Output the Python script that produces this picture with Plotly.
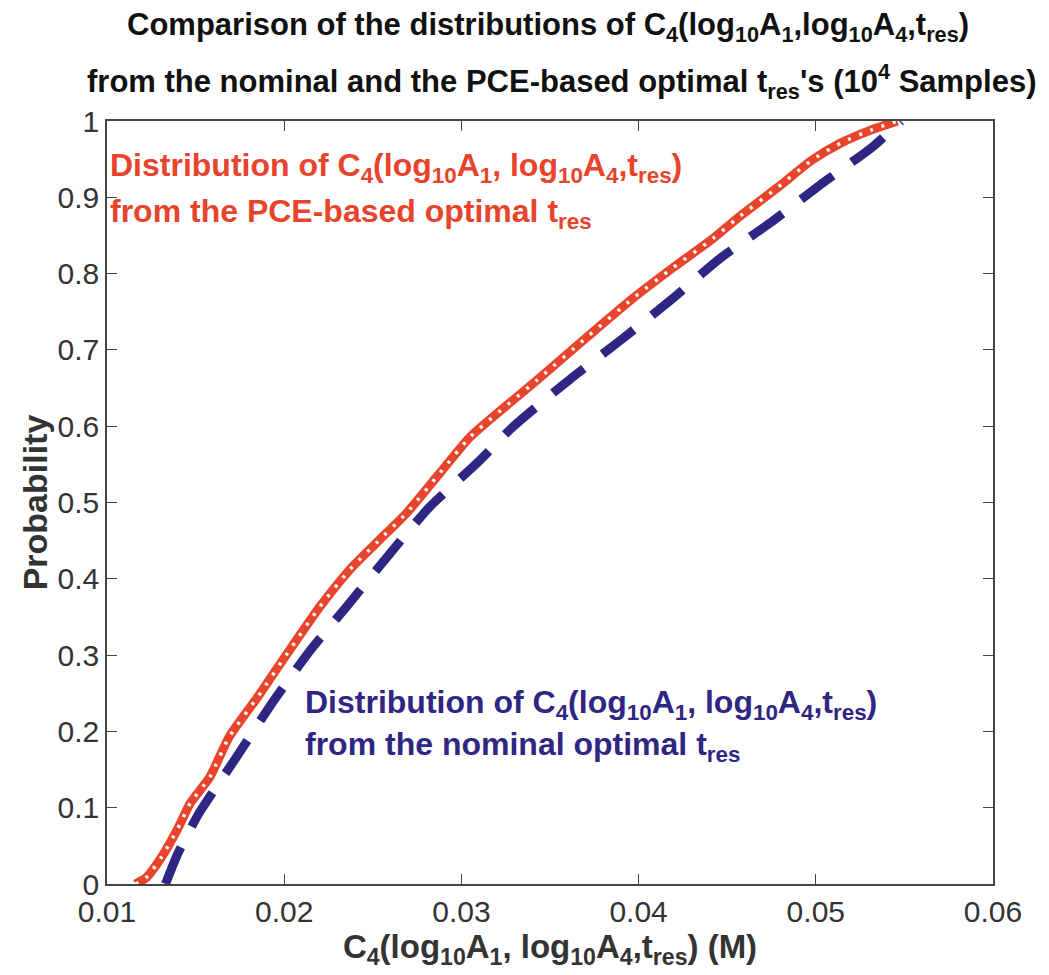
import plotly.graph_objects as go

pce_x = [0.0116, 0.0122, 0.0131, 0.0140, 0.0147, 0.0158, 0.0169, 0.0185, 0.0202, 0.0220,
         0.0237, 0.0252, 0.0269, 0.0288, 0.0305, 0.0343, 0.0371, 0.0397, 0.0419, 0.0442,
         0.0456, 0.0478, 0.0498, 0.0514, 0.0531, 0.0546]
pce_y = [0.0, 0.008, 0.036, 0.073, 0.106, 0.14, 0.193, 0.245, 0.303, 0.363,
         0.412, 0.447, 0.486, 0.539, 0.586, 0.661, 0.717, 0.768, 0.807, 0.846,
         0.873, 0.912, 0.949, 0.971, 0.988, 1.0]

nom_x = [0.0133, 0.0140, 0.0152, 0.0173, 0.0194, 0.0215, 0.0235, 0.0260, 0.0282, 0.0309,
         0.0329, 0.0361, 0.0390, 0.0418, 0.0446, 0.0474, 0.0504, 0.0532, 0.0548]
nom_y = [0.0, 0.04, 0.093, 0.166, 0.24, 0.307, 0.363, 0.434, 0.494, 0.552,
         0.599, 0.661, 0.713, 0.765, 0.82, 0.866, 0.919, 0.966, 1.0]

x_ticks = [0.01, 0.02, 0.03, 0.04, 0.05, 0.06]
x_tick_labels = ["0.01", "0.02", "0.03", "0.04", "0.05", "0.06"]
y_ticks = [0, 0.1, 0.2, 0.3, 0.4, 0.5, 0.6, 0.7, 0.8, 0.9, 1]
y_tick_labels = ["0", "0.1", "0.2", "0.3", "0.4", "0.5", "0.6", "0.7", "0.8", "0.9", "1"]

title_lines = [
    "<b>Comparison of the distributions of C<sub>4</sub>(log<sub>10</sub>A<sub>1</sub>,log<sub>10</sub>A<sub>4</sub>,t<sub>res</sub>)</b>",
    "<b>from the nominal and the PCE-based optimal t<sub>res</sub>'s (10<sup>4</sup> Samples)</b>",
]
red_lines = [
    "<b>Distribution of C<sub>4</sub>(log<sub>10</sub>A<sub>1</sub>, log<sub>10</sub>A<sub>4</sub>,t<sub>res</sub>)</b>",
    "<b>from the PCE-based optimal t<sub>res</sub></b>",
]
blue_lines = [
    "<b>Distribution of C<sub>4</sub>(log<sub>10</sub>A<sub>1</sub>, log<sub>10</sub>A<sub>4</sub>,t<sub>res</sub>)</b>",
    "<b>from the nominal optimal t<sub>res</sub></b>",
]

RED = "#e8432b"
BLUE = "#2f2683"
FONT = "Liberation Sans, Arial, Helvetica, sans-serif"

fig = go.Figure()
fig.add_trace(go.Scatter(x=nom_x, y=nom_y, mode="lines",
                         line=dict(color=BLUE, width=9, dash="40px,23px", shape="spline", smoothing=0.6),
                         showlegend=False, hoverinfo="skip"))
fig.add_trace(go.Scatter(x=pce_x, y=pce_y, mode="lines",
                         line=dict(color=RED, width=9, shape="spline", smoothing=0.6),
                         showlegend=False, hoverinfo="skip"))
fig.add_trace(go.Scatter(x=pce_x, y=pce_y, mode="lines",
                         line=dict(color="white", width=3.5, dash="3px,9px", shape="spline", smoothing=0.6),
                         showlegend=False, hoverinfo="skip"))

tick_font = dict(family=FONT, size=30, color="#333333")
fig.update_xaxes(range=[0.01, 0.06], tickvals=x_ticks, ticktext=x_tick_labels,
                 ticks="inside", ticklen=10, tickcolor="#444", mirror="ticks",
                 showline=True, linecolor="#444", linewidth=1.5, showgrid=False,
                 zeroline=False, tickfont=tick_font,
                 title=dict(text="<b>C<sub>4</sub>(log<sub>10</sub>A<sub>1</sub>, log<sub>10</sub>A<sub>4</sub>,t<sub>res</sub>) (M)</b>",
                            font=dict(family=FONT, size=33, color="#333"),
                            standoff=2))
fig.update_yaxes(range=[0, 1], tickvals=y_ticks, ticktext=y_tick_labels,
                 ticks="inside", ticklen=10, tickcolor="#444", mirror="ticks",
                 showline=True, linecolor="#444", linewidth=1.5, showgrid=False,
                 zeroline=False, tickfont=tick_font,
                 title=dict(text="<b>Probability</b>",
                            font=dict(family=FONT, size=34, color="#333"),
                            standoff=0))

def py(pix):
    # pixel row -> paper y (plot area spans rows 121..884)
    return (884 - pix) / 763.0

def px(pix):
    return (pix - 107) / 886.0

# Title lines
fig.add_annotation(x=px(548), y=py(27), xref="paper", yref="paper", xanchor="center", yanchor="middle",
                   text=title_lines[0], showarrow=False, font=dict(family=FONT, size=31, color="#111"))
fig.add_annotation(x=px(561), y=py(82), xref="paper", yref="paper", xanchor="center", yanchor="middle",
                   text=title_lines[1], showarrow=False, font=dict(family=FONT, size=31, color="#111"))

# In-plot labels
for i, row in enumerate([167, 213]):
    fig.add_annotation(x=px(108), y=py(row), xref="paper", yref="paper", xanchor="left", yanchor="middle",
                       text=red_lines[i], showarrow=False, font=dict(family=FONT, size=32, color=RED))
for i, row in enumerate([704, 746]):
    fig.add_annotation(x=px(303), y=py(row), xref="paper", yref="paper", xanchor="left", yanchor="middle",
                       text=blue_lines[i], showarrow=False, font=dict(family=FONT, size=32, color=BLUE))

fig.update_layout(
    width=1049, height=975,
    margin=dict(l=107, r=56, t=121, b=91),
    paper_bgcolor="white", plot_bgcolor="white",
)

fig.write_html("out.html")
